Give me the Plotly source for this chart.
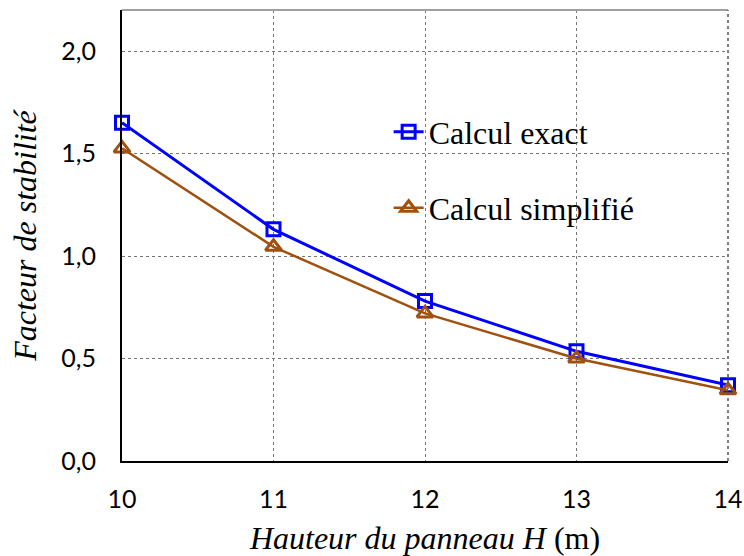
import plotly.graph_objects as go

# Panel height H (m)
hauteur = [10, 11, 12, 13, 14]
# Stability factor, exact and simplified calculation
facteur_exact = [1.65, 1.13, 0.78, 0.535, 0.37]
facteur_simplifie = [1.525, 1.045, 0.72, 0.50, 0.345]

y_ticks = [0.0, 0.5, 1.0, 1.5, 2.0]
x_ticks = [10, 11, 12, 13, 14]

serif = "Liberation Serif, Times New Roman, serif"
sans = "Lato, Carlito, Calibri, sans-serif"

fig = go.Figure()
fig.add_trace(go.Scatter(
    x=hauteur, y=facteur_exact, name="Calcul exact", mode="lines+markers",
    line=dict(color="#0000FF", width=3),
    marker=dict(symbol="square-open", size=13, color="#0000FF",
                line=dict(width=3, color="#0000FF")),
    legend="legend", cliponaxis=False,
))
fig.add_trace(go.Scatter(
    x=hauteur, y=facteur_simplifie, name="Calcul simplifié", mode="lines+markers",
    line=dict(color="#A0500F", width=2.5),
    marker=dict(symbol="triangle-up-open", size=14, color="#A0500F",
                line=dict(width=3, color="#A0500F")),
    legend="legend2", cliponaxis=False,
))

legend_common = dict(
    xanchor="left", yanchor="middle", bgcolor="rgba(0,0,0,0)",
    font=dict(family=serif, size=32, color="#000000"),
)

fig.update_layout(
    width=744, height=556,
    margin=dict(l=122, r=16, t=10, b=95),
    paper_bgcolor="white", plot_bgcolor="white",
    separators=", ",
    showlegend=True,
    legend=dict(x=0.44, y=0.7295, **legend_common),
    legend2=dict(x=0.44, y=0.561, **legend_common),
    xaxis=dict(
        range=[10, 14], tickvals=x_ticks, ticks="", automargin=False,
        showline=True, linecolor="#000000", linewidth=2,
        showgrid=True, gridcolor="#777777", griddash="dot", gridwidth=1,
        zeroline=False,
        tickfont=dict(family=sans, size=25, color="#000000"),
        ticklabelstandoff=15,
        title=dict(text="<i>Hauteur du panneau H</i> (m)",
                   font=dict(family=serif, size=32, color="#000000"),
                   standoff=15),
    ),
    yaxis=dict(
        range=[0, 2.2], tickvals=y_ticks, tickformat=".1f", ticks="", automargin=False,
        showline=True, linecolor="#000000", linewidth=2,
        showgrid=True, gridcolor="#777777", griddash="dot", gridwidth=1,
        zeroline=False,
        tickfont=dict(family=sans, size=25, color="#000000"),
        ticklabelstandoff=19,
        title=dict(text="<i>Facteur de stabilité</i>",
                   font=dict(family=serif, size=32, color="#000000"),
                   standoff=15),
    ),
)

# Light frame along the top edge and dashed line along the right edge
fig.add_shape(type="line", xref="paper", yref="paper", x0=0, x1=1, y0=1, y1=1,
              line=dict(color="#A0A0A0", width=2))
fig.add_shape(type="line", xref="paper", yref="paper", x0=1, x1=1, y0=0, y1=1,
              line=dict(color="#555555", width=1.5, dash="dot"))

fig.write_html("out.html")
